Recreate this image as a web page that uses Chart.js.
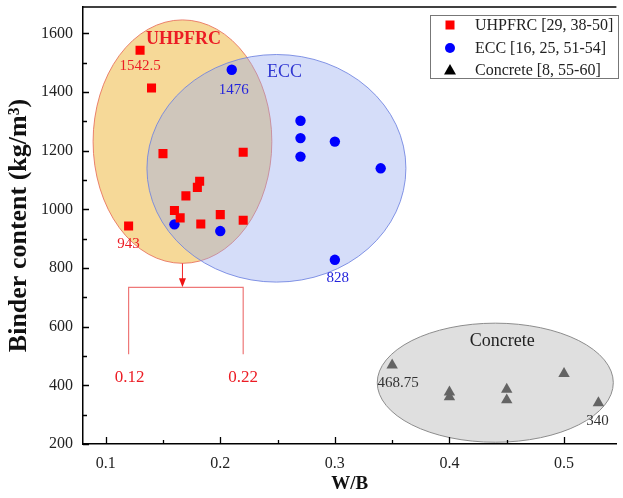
<!DOCTYPE html>
<html>
<head>
<meta charset="utf-8">
<script src="https://cdn.jsdelivr.net/npm/chart.js@4.4.0/dist/chart.umd.min.js"></script>
<style>
html,body{margin:0;padding:0;background:#fff;}
</style>
</head>
<body>
<canvas id="myChart" width="623" height="498"></canvas>
<script>
// W/B and binder content (kg/m3) of each group
var uhpfrcWB = [0.13, 0.14, 0.15, 0.22, 0.182, 0.18, 0.17, 0.16, 0.165, 0.183, 0.2, 0.22, 0.12];
var uhpfrcBinder = [1542.5, 1414, 1190, 1195, 1096, 1075, 1046, 996, 971, 950, 982, 963, 943];
var eccWB = [0.21, 0.27, 0.27, 0.27, 0.3, 0.16, 0.2, 0.34, 0.3];
var eccBinder = [1476, 1302, 1243, 1180, 1231, 949, 926, 1140, 828];
var concreteWB = [0.35, 0.4, 0.4, 0.45, 0.45, 0.5, 0.53];
var concreteBinder = [468.75, 377, 360, 386, 350, 440, 340];

var seriesNames = ['UHPFRC [29, 38-50]', 'ECC [16, 25, 51-54]', 'Concrete [8, 55-60]'];
var xTicks = [0.1, 0.2, 0.3, 0.4, 0.5];
var yTicks = [200, 400, 600, 800, 1000, 1200, 1400, 1600];

// groups: name, ellipse centre and half axes (data units), place of the name
var groupNames = ['UHPFRC', 'ECC', 'Concrete'];
var ellipseX = [0.167, 0.249, 0.440];
var ellipseY = [1231, 1140, 409];
var ellipseRx = [0.078, 0.113, 0.103];
var ellipseRy = [415, 388, 203];
var groupLabelX = [0.168, 0.256, 0.446];
var groupLabelY = [1581, 1469, 551];

// points whose value is written (index in each series)
var markedPoints = [[0, 12], [0, 8], [0, 6]];

// W/B range of the UHPFRC group
var wbRange = [0.12, 0.22];

var serif = "'Liberation Serif', 'Times New Roman', serif";
var red = 'rgb(236,28,36)';
var blue = 'rgb(36,36,220)';

function toPoints(xs, ys){
  var pts = [];
  for(var i=0; i<xs.length; i++){
    pts.push({x: xs[i], y: ys[i]});
  }
  return pts;
}

var groupStyle = [
  {fill: 'rgba(238,180,50,0.5)', line: 'rgba(232,110,90,0.85)', text: red, bold: true, size: 18},
  {fill: 'rgba(150,170,240,0.4)', line: 'rgba(110,130,225,0.85)', text: 'rgb(50,56,210)', bold: false, size: 18},
  {fill: 'rgb(223,223,223)', line: 'rgb(140,140,140)', text: '#222', bold: false, size: 18}
];
var labelStyle = [
  {color: red, dx: [0, 0], dy: [16, 18]},
  {color: blue, dx: [2, 3], dy: [20, 18]},
  {color: '#333', dx: [6, -1], dy: [18, 18]}
];

//fonds elliptiques sous les points
var ellipsePlugin = {
  id: 'ellipses',
  beforeDatasetsDraw: function(chart){
    var ctx = chart.ctx, sx = chart.scales.x, sy = chart.scales.y;
    ctx.save();
    for(var i=0; i<groupNames.length; i++){
      var cx = sx.getPixelForValue(ellipseX[i]);
      var cy = sy.getPixelForValue(ellipseY[i]);
      var rx = sx.getPixelForValue(ellipseX[i] + ellipseRx[i]) - cx;
      var ry = cy - sy.getPixelForValue(ellipseY[i] + ellipseRy[i]);
      ctx.beginPath();
      ctx.ellipse(cx, cy, rx, ry, 0, 0, Math.PI*2);
      ctx.fillStyle = groupStyle[i].fill;
      ctx.fill();
      ctx.lineWidth = 1;
      ctx.strokeStyle = groupStyle[i].line;
      ctx.stroke();
    }
    ctx.restore();
  },
  afterDatasetsDraw: function(chart){
    var ctx = chart.ctx, sx = chart.scales.x, sy = chart.scales.y;
    ctx.save();
    ctx.textAlign = 'center';
    ctx.textBaseline = 'middle';

    //noms des groupes
    for(var i=0; i<groupNames.length; i++){
      var st = groupStyle[i];
      ctx.font = (st.bold ? 'bold ' : '') + st.size + 'px ' + serif;
      ctx.fillStyle = st.text;
      ctx.fillText(groupNames[i], sx.getPixelForValue(groupLabelX[i]), sy.getPixelForValue(groupLabelY[i]));
    }

    //valeurs extremes
    ctx.font = '15px ' + serif;
    for(var d=0; d<chart.data.datasets.length; d++){
      var pts = chart.data.datasets[d].data;
      for(var k=0; k<markedPoints[d].length; k++){
        var p = pts[markedPoints[d][k]];
        ctx.fillStyle = labelStyle[d].color;
        ctx.fillText(String(p.y), sx.getPixelForValue(p.x) + labelStyle[d].dx[k], sy.getPixelForValue(p.y) + labelStyle[d].dy[k]);
      }
    }

    //fleche et crochet sous UHPFRC
    var ax = sx.getPixelForValue(ellipseX[0]);
    var ay = sy.getPixelForValue(ellipseY[0] - ellipseRy[0]);
    var top = ay + 24, bottom = ay + 91;
    var x0 = sx.getPixelForValue(wbRange[0]), x1 = sx.getPixelForValue(wbRange[1]);
    ctx.strokeStyle = 'rgb(240,40,40)';
    ctx.lineWidth = 1;
    ctx.beginPath();
    ctx.moveTo(ax, ay);
    ctx.lineTo(ax, top - 6);
    ctx.stroke();
    ctx.fillStyle = 'rgb(240,20,20)';
    ctx.beginPath();
    ctx.moveTo(ax - 3.5, top - 9);
    ctx.lineTo(ax + 3.5, top - 9);
    ctx.lineTo(ax, top);
    ctx.closePath();
    ctx.fill();

    ctx.strokeStyle = 'rgb(238,120,120)';
    ctx.lineWidth = 1.2;
    ctx.beginPath();
    ctx.moveTo(x0, bottom);
    ctx.lineTo(x0, top);
    ctx.lineTo(x1, top);
    ctx.lineTo(x1, bottom);
    ctx.stroke();

    ctx.font = '17px ' + serif;
    ctx.fillStyle = red;
    ctx.fillText(String(wbRange[0]), x0 + 1, bottom + 23);
    ctx.fillText(String(wbRange[1]), x1, bottom + 23);
    ctx.restore();
  },
  afterDraw: function(chart){
    var ctx = chart.ctx, sx = chart.scales.x, sy = chart.scales.y, a = chart.chartArea;
    ctx.save();

    //ticks vers l'interieur
    ctx.strokeStyle = '#000';
    ctx.lineWidth = 1.3;
    ctx.beginPath();
    for(var i=0; i<yTicks.length; i++){
      var yy = Math.round(sy.getPixelForValue(yTicks[i])) + 0.5;
      ctx.moveTo(a.left, yy); ctx.lineTo(a.left + 6, yy);
      if(i < yTicks.length - 1){
        var ym = Math.round(sy.getPixelForValue((yTicks[i] + yTicks[i+1]) / 2)) + 0.5;
        ctx.moveTo(a.left, ym); ctx.lineTo(a.left + 4, ym);
      }
    }
    for(var j=0; j<xTicks.length; j++){
      var xx = Math.round(sx.getPixelForValue(xTicks[j])) + 0.5;
      ctx.moveTo(xx, a.bottom); ctx.lineTo(xx, a.bottom - 7);
      if(j < xTicks.length - 1){
        var xm = Math.round(sx.getPixelForValue((xTicks[j] + xTicks[j+1]) / 2)) + 0.5;
        ctx.moveTo(xm, a.bottom); ctx.lineTo(xm, a.bottom - 4);
      }
    }
    ctx.stroke();

    //cadre du haut
    ctx.lineWidth = 1.5;
    ctx.beginPath();
    ctx.moveTo(a.left, a.top);
    ctx.lineTo(a.right, a.top);
    ctx.stroke();

    //legende
    var lx = 430, ly = 15, lw = 188, lh = 63;
    ctx.fillStyle = '#fff';
    ctx.fillRect(lx, ly, lw, lh);
    ctx.strokeStyle = '#777';
    ctx.lineWidth = 1;
    ctx.strokeRect(lx + 0.5, ly + 0.5, lw, lh);
    var rows = [25, 48, 70];
    ctx.font = '16px ' + serif;
    ctx.textAlign = 'left';
    ctx.textBaseline = 'middle';
    for(var r=0; r<rows.length; r++){
      var my = rows[r], mx = 450;
      if(r == 0){
        ctx.fillStyle = '#ff0000';
        ctx.fillRect(mx - 4.5, my - 4.5, 9, 9);
      }
      if(r == 1){
        ctx.fillStyle = '#0000ff';
        ctx.beginPath();
        ctx.arc(mx, my, 5, 0, Math.PI*2);
        ctx.fill();
      }
      if(r == 2){
        ctx.fillStyle = '#000';
        ctx.beginPath();
        ctx.moveTo(mx, my - 6);
        ctx.lineTo(mx + 6, my + 4.5);
        ctx.lineTo(mx - 6, my + 4.5);
        ctx.closePath();
        ctx.fill();
      }
      ctx.fillStyle = '#222';
      ctx.fillText(chart.data.datasets[r].label, 475, my + 1);
    }
    ctx.restore();
  }
};

var config = {
  type: 'scatter',
  data: {
    datasets: [
      {
        label: seriesNames[0],
        data: toPoints(uhpfrcWB, uhpfrcBinder),
        pointStyle: 'rect',
        pointRadius: 6.4,
        backgroundColor: '#ff0000',
        borderColor: '#ff0000',
        borderWidth: 0
      },
      {
        label: seriesNames[1],
        data: toPoints(eccWB, eccBinder),
        pointStyle: 'circle',
        pointRadius: 5.2,
        backgroundColor: '#0000ff',
        borderColor: '#0000ff',
        borderWidth: 0
      },
      {
        label: seriesNames[2],
        data: toPoints(concreteWB, concreteBinder),
        pointStyle: 'triangle',
        pointRadius: 6.6,
        backgroundColor: 'rgb(100,100,100)',
        borderColor: 'rgb(100,100,100)',
        borderWidth: 0
      }
    ]
  },
  options: {
    responsive: false,
    animation: false,
    devicePixelRatio: 1,
    layout: {padding: {top: 7, left: 0, right: 0, bottom: 0}},
    plugins: {
      legend: {display: false},
      tooltip: {enabled: false}
    },
    scales: {
      x: {
        type: 'linear',
        min: 0.0802,
        max: 0.5457,
        afterBuildTicks: function(s){ s.ticks = xTicks.map(function(v){ return {value: v}; }); },
        afterFit: function(s){ s.height = 54; s.paddingLeft = 0; s.paddingRight = 0; },
        grid: {display: false, drawTicks: false},
        border: {display: true, color: '#000', width: 1.5},
        ticks: {
          padding: 10,
          color: '#222',
          font: {family: serif, size: 16},
          callback: function(v){ return String(v); }
        },
        title: {
          display: true,
          text: 'W/B',
          color: '#111',
          font: {family: serif, size: 19, weight: 'bold'},
          padding: {top: 0, bottom: 3}
        }
      },
      y: {
        type: 'linear',
        min: 200,
        max: 1690,
        afterBuildTicks: function(s){ s.ticks = yTicks.map(function(v){ return {value: v}; }); },
        afterFit: function(s){ s.width = 83; s.paddingTop = 0; s.paddingBottom = 0; },
        grid: {display: false, drawTicks: false},
        border: {display: true, color: '#000', width: 1.5},
        ticks: {
          padding: 10,
          color: '#222',
          font: {family: serif, size: 16},
          callback: function(v){ return String(v); }
        },
        title: {
          display: true,
          text: 'Binder content (kg/m\u00b3)',
          color: '#111',
          font: {family: serif, size: 26, weight: 'bold'},
          padding: {top: 4, bottom: 0}
        }
      }
    }
  },
  plugins: [ellipsePlugin]
};

var myChart = new Chart(document.getElementById('myChart'), config);
</script>
</body>
</html>
